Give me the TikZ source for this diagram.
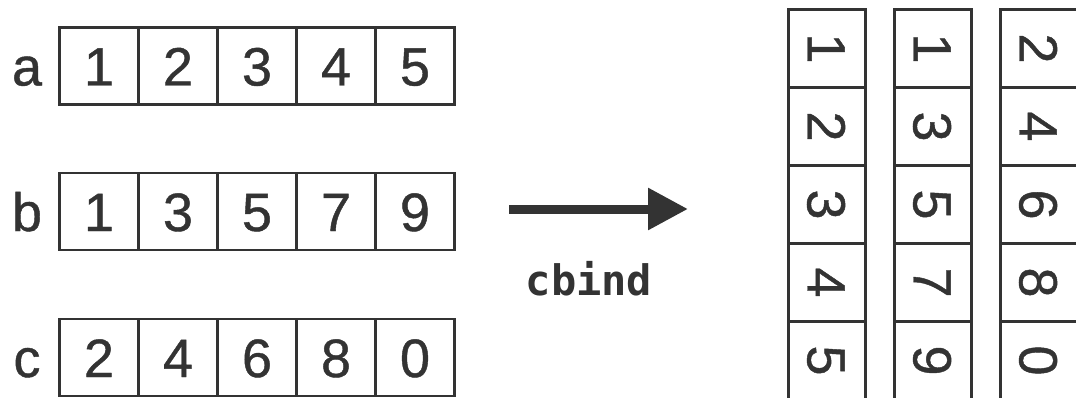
\documentclass[tikz,border=0pt]{standalone}
\usepackage{fontspec}
\setmainfont{Liberation Sans}[FakeBold=0.8]
\setmonofont{DejaVu Sans Mono}
\usetikzlibrary{arrows.meta}
\definecolor{ink}{RGB}{51,51,51}

\tikzset{
  digit/.style={font=\fontsize{54}{54}\selectfont, text=ink,
    text height=39pt, text depth=0pt, inner sep=0pt},
  cell/.style={digit, draw=ink, line width=2.6pt,
    minimum width=79pt, minimum height=77pt},
  rcell/.style={cell, rotate=-90, minimum width=78pt, minimum height=77pt},
  vname/.style={digit},
  cmd/.style={font=\ttfamily\bfseries\fontsize{42}{42}\selectfont, text=ink, inner sep=0pt}
}

\begin{document}
\begin{tikzpicture}[x=1pt, y=1pt, >={Triangle[length=40pt,width=40pt]}]
  \useasboundingbox (0,0) rectangle (1076,397);

  % vectors a, b, c laid out as rows
  \foreach \name/\y/\vals in {a/331/{1,2,3,4,5}, b/185.5/{1,3,5,7,9}, c/39.5/{2,4,6,8,0}} {
    \node[vname] (\name) at (27,\y) {\name};
    \foreach \v [count=\i] in \vals
      \node[cell] (\name\i) at ({20+79*\i},\y) {\v};
  }

  % cbind arrow
  \coordinate (from) at (509,188);
  \coordinate (to) at (688,188);
  \draw[->, line width=9pt, draw=ink, fill=ink] (from) -- (to);
  \node[cmd, anchor=base] (cbind) at (589,102) {cbind};

  % result: the same vectors as columns
  \foreach \col/\x/\vals in {ca/827/{1,2,3,4,5}, cb/933/{1,3,5,7,9}, cc/1039/{2,4,6,8,0}} {
    \foreach \v [count=\i] in \vals
      \node[rcell] (\col\i) at (\x,{426.5-78*\i}) {\v};
  }
\end{tikzpicture}
\end{document}
